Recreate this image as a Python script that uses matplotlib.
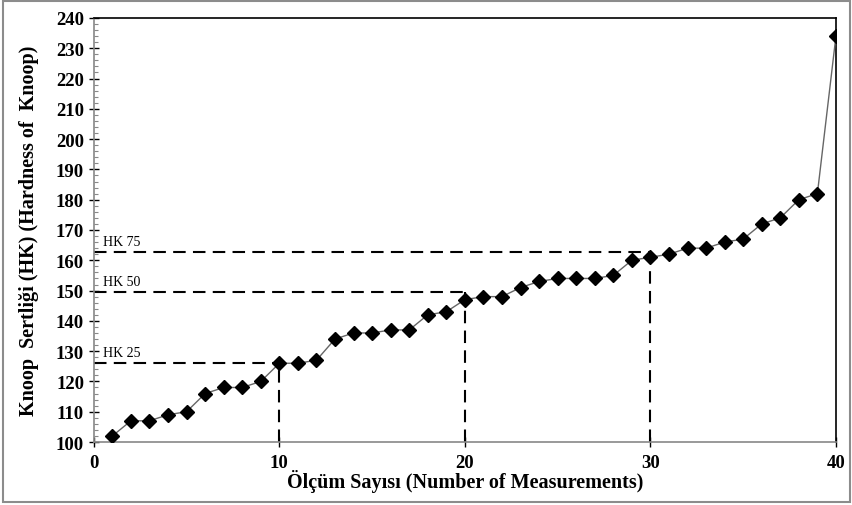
import numpy as np, matplotlib
matplotlib.use("Agg")
import matplotlib.pyplot as plt
from matplotlib.ticker import MultipleLocator
from matplotlib.patches import Rectangle

plt.rcParams["font.family"] = ["Liberation Serif", "DejaVu Serif"]

n = np.arange(1, 41)
hk = [102, 107, 107, 109, 110, 116, 118, 118, 120, 126,
      126, 127, 134, 136, 136, 137, 137, 142, 143, 147,
      148, 148, 151, 153, 154, 154, 154, 155, 160, 161,
      162, 164, 164, 166, 167, 172, 174, 180, 182, 234]
q_names = ["HK 25", "HK 50", "HK 75"]
q_x = [10, 20, 30]
q_y = [126, 149.5, 162.7]

fig = plt.figure(figsize=(8.53, 5.06), dpi=100)
fig.patches.append(Rectangle((0.004, 0.006), 0.992, 0.99, transform=fig.transFigure,
                             fill=False, ec="#8c8c8c", lw=1.5))
ax = fig.add_axes([0.110, 0.1245, 0.870, 0.838])

dash = dict(color="black", lw=1.5, ls=(0, (6, 3.5)))
for nm, qx, qy in zip(q_names, q_x, q_y):
    ax.plot([0, qx], [qy, qy], **dash)
    ax.plot([qx, qx], [100, qy], **dash)
    ax.text(0.5, qy + 1.5, nm, fontsize=10, va="bottom", ha="left")

ax.plot(n, hk, color="#666666", lw=1, marker="D", ms=7, mfc="black", mec="black", zorder=3)

ax.set_xlim(0, 40); ax.set_ylim(100, 240)
ax.xaxis.set_major_locator(MultipleLocator(10))
ax.yaxis.set_major_locator(MultipleLocator(10))
ax.yaxis.set_minor_locator(MultipleLocator(2))
ax.tick_params(axis="both", which="major", direction="inout", length=7, width=1, labelsize=13.5)
ax.tick_params(axis="x", pad=5)
ax.tick_params(axis="y", which="minor", direction="in", length=3, width=0.8, color="#888888")
for lab in ax.get_xticklabels() + ax.get_yticklabels():
    lab.set_fontweight("bold")
for s in ax.spines.values():
    s.set_linewidth(1.2)
ax.spines["left"].set_color("#888888"); ax.spines["bottom"].set_color("#888888")

ax.set_xlabel("Ölçüm Sayısı (Number of Measurements)", fontsize=14.5, fontweight="bold", labelpad=-1)
ax.set_ylabel("Knoop  Sertliği (HK) (Hardness of  Knoop)", fontsize=14.5, fontweight="bold", labelpad=12)

fig.savefig("out.png", dpi=100)
